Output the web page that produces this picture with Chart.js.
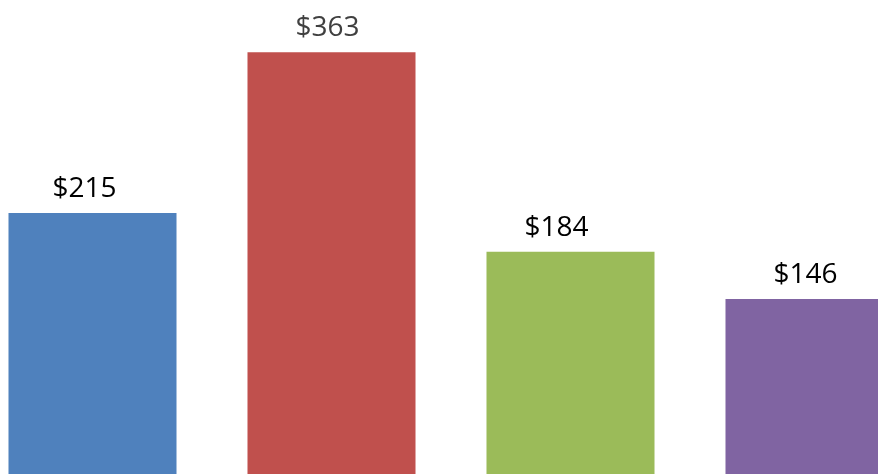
<!DOCTYPE html>
<html>
<head>
<meta charset="utf-8">
<script src="https://cdn.jsdelivr.net/npm/chart.js@4/dist/chart.umd.min.js"></script>
<style>
  html, body { margin: 0; padding: 0; background: #fff; overflow: hidden; width: 878px; height: 474px; }
  #wrap { position: absolute; left: -27px; top: 0; width: 956px; height: 481px; }
</style>
</head>
<body>
<div id="wrap"><canvas id="chart" width="956" height="481"></canvas></div>
<script>
// data
const categories = ['Item 1', 'Item 2', 'Item 3', 'Item 4'];
const priceLabels = [215, 363, 184, 146];     // printed above the bars
const barHeights = [215, 344, 184, 146];      // bar lengths as drawn (red bar is drawn short)
const barColors = ['#4F81BD', '#C0504D', '#9BBB59', '#8064A2'];
const labelColors = ['#000000', '#404040', '#000000', '#000000'];
const labelShift = [-8, -4, -14, -4];

// price labels over each bar
const priceLabelPlugin = {
  id: 'priceLabels',
  afterDatasetsDraw(chart) {
    const ctx = chart.ctx;
    const meta = chart.getDatasetMeta(0);
    ctx.save();
    ctx.font = '28px "Open Sans", sans-serif';
    ctx.textAlign = 'center';
    ctx.textBaseline = 'alphabetic';
    meta.data.forEach((bar, i) => {
      ctx.fillStyle = labelColors[i];
      ctx.fillText('$' + priceLabels[i], bar.x + labelShift[i], bar.y - 16);
    });
    ctx.restore();
  }
};

new Chart(document.getElementById('chart'), {
  type: 'bar',
  data: {
    labels: categories,
    datasets: [{
      data: barHeights,
      backgroundColor: barColors,
      borderWidth: 0,
      categoryPercentage: 1,
      barPercentage: 0.703
    }]
  },
  options: {
    responsive: false,
    animation: false,
    layout: { padding: 0 },
    plugins: {
      legend: { display: false },
      tooltip: { enabled: false }
    },
    scales: {
      x: { display: false },
      y: { display: false, min: 0, max: 386 }
    }
  },
  plugins: [priceLabelPlugin]
});
</script>
</body>
</html>
